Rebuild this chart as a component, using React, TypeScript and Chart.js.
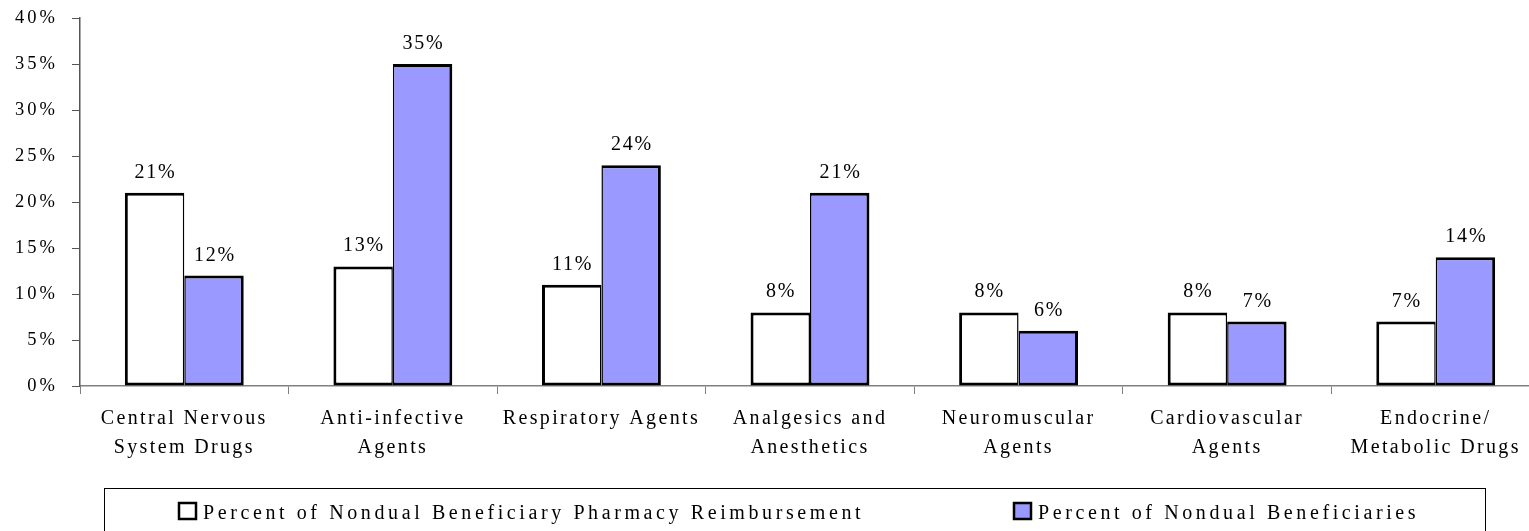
import React, { useEffect, useRef } from "react";
import { Chart, registerables } from "chart.js";

Chart.register(...registerables);

const categories: string[][] = [
  ["Central Nervous", "System Drugs"],
  ["Anti-infective", "Agents"],
  ["Respiratory Agents"],
  ["Analgesics and", "Anesthetics"],
  ["Neuromuscular", "Agents"],
  ["Cardiovascular", "Agents"],
  ["Endocrine/", "Metabolic Drugs"],
];
const reimbursementPct: number[] = [21, 13, 11, 8, 8, 8, 7];
const beneficiaryPct: number[] = [12, 35, 24, 21, 6, 7, 14];
const seriesNames: string[] = [
  "Percent of Nondual Beneficiary Pharmacy Reimbursement",
  "Percent of Nondual Beneficiaries",
];
const yTicks: number[] = [0, 5, 10, 15, 20, 25, 30, 35, 40];

const FONT = "'Liberation Serif', 'Times New Roman', serif";
const X_SPACING = 2.35;
const Y_SPACING = 3;
const VAL_SPACING = 1.8;
const LEG_SPACING = 3.6;
const PURPLE = "#9999FF";

const spacingPlugin = {
  id: "letterSpacing",
  beforeInit(chart: any) { chart.ctx.letterSpacing = `${X_SPACING}px`; },
  beforeUpdate(chart: any) { chart.ctx.letterSpacing = `${X_SPACING}px`; },
  beforeLayout(chart: any) { chart.ctx.letterSpacing = `${X_SPACING}px`; },
  beforeDraw(chart: any) { chart.ctx.letterSpacing = `${X_SPACING}px`; },
};

const yLabelPlugin = {
  id: "yLabels",
  afterDraw(chart: any) {
    const ctx = chart.ctx;
    const y = chart.scales.y;
    ctx.save();
    ctx.letterSpacing = `${Y_SPACING}px`;
    ctx.font = `18.5px ${FONT}`;
    ctx.fillStyle = "#000";
    ctx.textAlign = "right";
    ctx.textBaseline = "middle";
    yTicks.forEach((v) => {
      ctx.fillText(`${v}%`, 55 + Y_SPACING, y.getPixelForValue(v));
    });
    ctx.restore();
  },
};

const valueLabelPlugin = {
  id: "valueLabels",
  afterDatasetsDraw(chart: any) {
    const ctx = chart.ctx;
    ctx.save();
    ctx.letterSpacing = `${VAL_SPACING}px`;
    ctx.font = `20px ${FONT}`;
    ctx.fillStyle = "#000";
    ctx.textAlign = "center";
    ctx.textBaseline = "alphabetic";
    chart.data.datasets.forEach((ds: any, di: number) => {
      const meta = chart.getDatasetMeta(di);
      meta.data.forEach((el: any, i: number) => {
        ctx.fillText(`${ds.data[i]}%`, el.x + VAL_SPACING / 2, el.y - 15);
      });
    });
    ctx.restore();
  },
};

const legendPlugin = {
  id: "boxLegend",
  afterDraw(chart: any) {
    const ctx = chart.ctx;
    ctx.save();
    ctx.letterSpacing = `${LEG_SPACING}px`;
    ctx.strokeStyle = "#000";
    ctx.lineWidth = 1;
    ctx.strokeRect(104.5, 488.5, 1381, 80);
    const items = [
      { x: 179, fill: "#FFFFFF" },
      { x: 1014, fill: PURPLE },
    ];
    ctx.font = `20px ${FONT}`;
    ctx.textAlign = "left";
    ctx.textBaseline = "alphabetic";
    chart.data.datasets.forEach((ds: any, i: number) => {
      const it = items[i];
      ctx.fillStyle = ds.backgroundColor;
      ctx.fillRect(it.x, 503, 17, 16);
      ctx.lineWidth = 2.5;
      ctx.strokeStyle = "#000";
      ctx.strokeRect(it.x, 503, 17, 16);
      ctx.fillStyle = "#000";
      ctx.fillText(ds.label, it.x + 24, 519);
    });
    ctx.restore();
  },
};

export default function App() {
  const canvasRef = useRef<HTMLCanvasElement | null>(null);

  useEffect(() => {
    const canvas = canvasRef.current;
    if (!canvas) return;
    const chart = new Chart(canvas, {
      type: "bar",
      data: {
        labels: categories,
        datasets: [
          {
            label: seriesNames[0],
            data: reimbursementPct,
            backgroundColor: "#FFFFFF",
            borderColor: "#000000",
            borderWidth: { top: 3, left: 3, bottom: 3, right: 1.5 },
            borderSkipped: false,
            inflateAmount: 0,
          },
          {
            label: seriesNames[1],
            data: beneficiaryPct,
            backgroundColor: PURPLE,
            borderColor: "#000000",
            borderWidth: { top: 3, left: 1.5, bottom: 3, right: 3 },
            borderSkipped: false,
            inflateAmount: 0,
          },
        ],
      } as any,
      options: {
        responsive: false,
        animation: false,
        devicePixelRatio: 1,
        layout: { padding: { top: 18, right: 5, left: 0, bottom: 0 } },
        datasets: { bar: { categoryPercentage: 0.57, barPercentage: 1 } },
        plugins: {
          legend: { display: false },
          tooltip: { enabled: false },
          title: { display: false },
        },
        scales: {
          x: {
            offset: true,
            grid: {
              offset: true,
              drawOnChartArea: false,
              drawTicks: true,
              tickLength: 8,
              color: "#808080",
            },
            border: { display: true, color: "#808080", width: 1.5 },
            ticks: {
              autoSkip: false,
              maxRotation: 0,
              minRotation: 0,
              padding: 10,
              color: "#000",
              font: { family: FONT, size: 20, lineHeight: 1.45 },
            },
            afterFit(scale: any) { scale.height = 145; },
          },
          y: {
            min: 0,
            max: 40,
            afterBuildTicks(scale: any) {
              scale.ticks = yTicks.map((v) => ({ value: v }));
            },
            grid: {
              drawOnChartArea: false,
              drawTicks: true,
              tickLength: 8,
              color: "#555",
            },
            border: { display: true, color: "#555", width: 1.5 },
            ticks: {
              padding: 0,
              color: "rgba(0,0,0,0)",
              font: { family: FONT, size: 1 },
              callback: (v: any) => `${v}%`,
            },
            afterFit(scale: any) { scale.width = 80; },
          },
        },
      } as any,
      plugins: [spacingPlugin, valueLabelPlugin, yLabelPlugin, legendPlugin],
    });
    return () => chart.destroy();
  }, []);

  return (
    <div
      style={{
        position: "fixed",
        left: 0,
        top: 0,
        width: 1529,
        height: 531,
        overflow: "hidden",
        background: "#fff",
      }}
    >
      <canvas ref={canvasRef} width={1545} height={531} style={{ display: "block" }} />
    </div>
  );
}
